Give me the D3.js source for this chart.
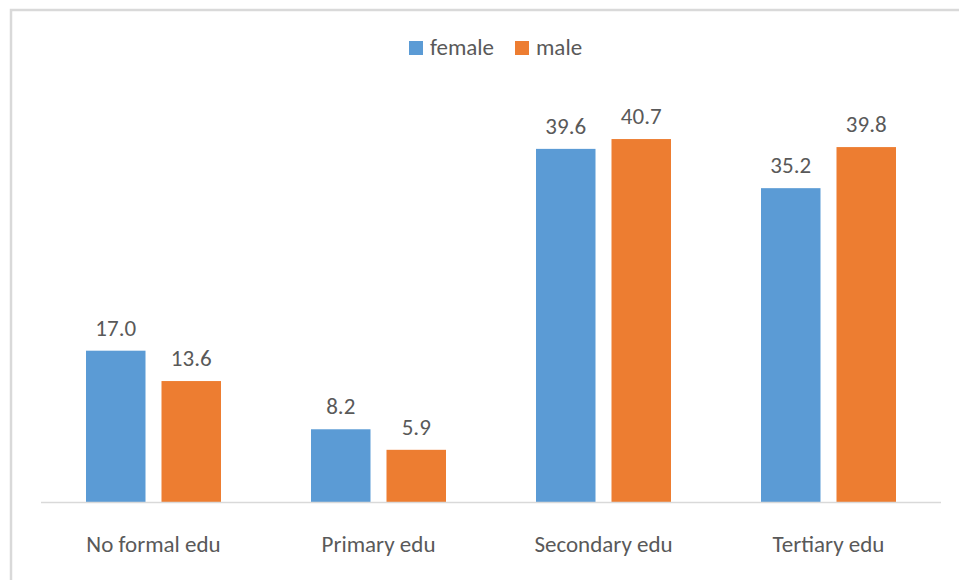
<!DOCTYPE html>
<html>
<head>
<meta charset="utf-8">
<script src="https://cdn.jsdelivr.net/npm/d3@7"></script>
<style>
    html, body { margin: 0; padding: 0; background: #fff; }
    text { font-family: Carlito, Calibri, Lato, sans-serif; fill: #595959; }
</style>
</head>
<body>
<div id="chart"></div>
<script>
    const categories = ["No formal edu", "Primary edu", "Secondary edu", "Tertiary edu"];
    const seriesNames = ["female", "male"];
    const female = [17.0, 8.2, 39.6, 35.2];
    const male = [13.6, 5.9, 40.7, 39.8];
    const colors = ["#5b9bd5", "#ed7d31"];

    let width = 959, height = 580;
    const plotLeft = 41, plotRight = 941, baseY = 502.5, topY = 56;
    const fontSize = "23px";

    const svg = d3.select("#chart")
        .append("svg")
        .attr("width", width)
        .attr("height", height);

    // chart frame (only top and left edges show in the crop)
    svg.append("rect")
        .attr("x", 11)
        .attr("y", 10)
        .attr("width", 960)
        .attr("height", 600)
        .attr("fill", "none")
        .attr("stroke", "#d9d9d9")
        .attr("stroke-width", 2.5);

    const x0 = d3.scaleBand()
        .domain(categories)
        .range([plotLeft, plotRight]);

    // group of 2 bars + inner gap inside each band
    const barW = 59.5, innerGap = 16;
    const x1 = d3.scaleOrdinal()
        .domain(seriesNames)
        .range([-(barW + innerGap / 2), innerGap / 2]);

    const y = d3.scaleLinear()
        .domain([0, 50])
        .range([baseY, topY]);

    const rows = categories.map((c, i) => ({ cat: c, values: [female[i], male[i]] }));

    const groups = svg.append("g")
        .selectAll("g")
        .data(rows)
        .join("g")
        .attr("transform", d => `translate(${x0(d.cat) + x0.bandwidth() / 2},0)`);

    const bars = groups.selectAll("g.bar")
        .data(d => d.values.map((v, j) => ({ name: seriesNames[j], value: v, j })))
        .join("g")
        .attr("class", "bar");

    bars.append("rect")
        .attr("x", d => x1(d.name))
        .attr("y", d => y(d.value))
        .attr("width", barW)
        .attr("height", d => baseY - y(d.value))
        .attr("fill", d => colors[d.j]);

    bars.append("text")
        .attr("x", d => x1(d.name) + barW / 2)
        .attr("y", d => y(d.value) - 15)
        .attr("text-anchor", "middle")
        .attr("font-size", fontSize)
        .text(d => d.value.toFixed(1));

    // category axis
    const xAxis = svg.append("g")
        .attr("transform", `translate(0,${baseY})`)
        .call(d3.axisBottom(x0).tickSize(0).tickPadding(0));
    xAxis.select(".domain").attr("stroke", "#d9d9d9").attr("stroke-width", 1.5)
        .attr("d", `M${plotLeft},0H${plotRight}`);
    xAxis.selectAll(".tick text")
        .attr("y", 49)
        .attr("dy", null)
        .attr("font-size", fontSize)
        .attr("fill", "#595959");
    xAxis.attr("font-family", null).attr("font-size", null);

    // legend
    const legendItems = [
        { name: "female", x: 409 },
        { name: "male", x: 515 }
    ];
    const legend = svg.append("g")
        .selectAll("g")
        .data(legendItems)
        .join("g")
        .attr("transform", d => `translate(${d.x},41)`);
    legend.append("rect")
        .attr("width", 14)
        .attr("height", 14)
        .attr("fill", (d, i) => colors[i]);
    legend.append("text")
        .attr("x", 21)
        .attr("y", 14)
        .attr("font-size", fontSize)
        .text(d => d.name);
</script>
</body>
</html>
